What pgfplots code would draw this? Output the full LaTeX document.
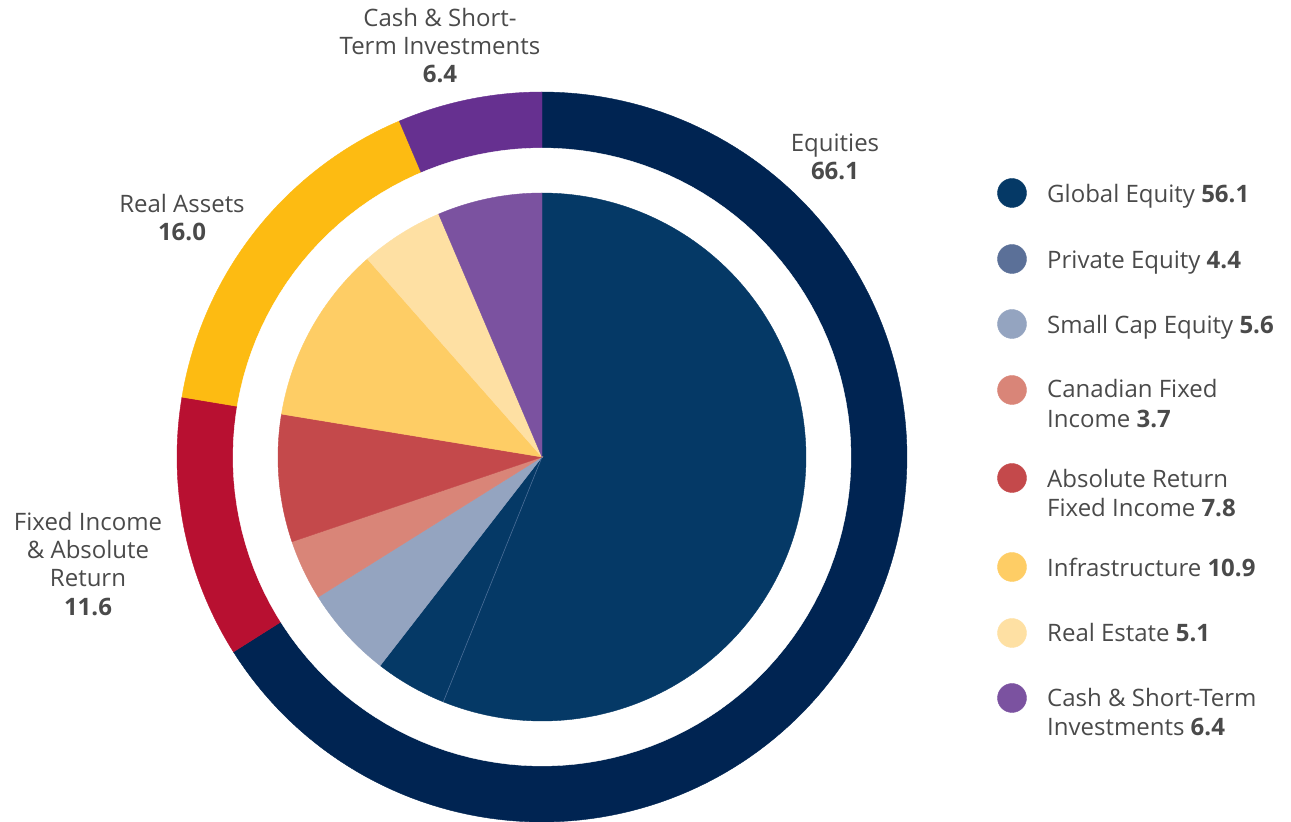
\documentclass[border=0pt]{standalone}
\usepackage{pgfplots}
\pgfplotsset{compat=1.18}
\usepackage{fontspec}
\setmainfont{Open Sans}
\definecolor{txt}{HTML}{4A4A4A}
\definecolor{eqring}{HTML}{002452}
\definecolor{firing}{HTML}{B81031}
\definecolor{raring}{HTML}{FDBB12}
\definecolor{cashring}{HTML}{663090}
\definecolor{glob}{HTML}{053966}
\definecolor{priv}{HTML}{5B7098}
\definecolor{small}{HTML}{94A4C0}
\definecolor{cfi}{HTML}{D98578}
\definecolor{abs}{HTML}{C4494B}
\definecolor{infra}{HTML}{FECD65}
\definecolor{reale}{HTML}{FEE0A3}
\definecolor{cash}{HTML}{7B52A0}
\definecolor{seam}{HTML}{4A6E98}
\tikzset{lab/.style={text=txt,font=\fontsize{24}{28}\selectfont,inner sep=0pt}}
% #1 radius, #2 cumulative start, #3 value, #4 total, #5 colour
\newcommand\slice[5]{%
  \pgfmathsetmacro\aA{90-((#2+#3)/#4)*360}%
  \pgfmathsetmacro\aB{90-((#2)/#4)*360}%
  \edef\tmp{\noexpand\addplot[fill=#5,draw=#5,line width=0.4pt,mark=none,domain=\aA:\aB,samples=150,variable=\noexpand\t] ({542+#1*cos(\noexpand\t)},{-457+#1*sin(\noexpand\t)}) -- (axis cs:542,-457) -- cycle;}%
  \tmp
}
\newcommand\legdot[3]{\addplot[only marks,mark=*,mark size=14.5,mark options={fill=#1,draw=#1}] coordinates {(#2,#3)};}
\begin{document}
\begin{tikzpicture}
\begin{axis}[width=1291pt,height=822pt,scale only axis,xmin=0,xmax=1291,ymin=-822,ymax=0,hide axis,clip=false]
\coordinate (BL) at (axis cs:0,-822);
\coordinate (TR) at (axis cs:1291,0);
% outer ring (total 100.1)
\slice{365}{0}{66.1}{100.1}{eqring}
\slice{365}{66.1}{11.6}{100.1}{firing}
\slice{365}{77.7}{16.0}{100.1}{raring}
\slice{365}{93.7}{6.4}{100.1}{cashring}
\slice{309}{0}{100}{100}{white}
% inner pie
\slice{264}{0}{56.1}{100}{glob}
\slice{264}{56.1}{4.4}{100}{glob}
\slice{264}{60.5}{5.6}{100}{small}
\slice{264}{66.1}{3.7}{100}{cfi}
\slice{264}{69.8}{7.8}{100}{abs}
\slice{264}{77.6}{10.9}{100}{infra}
\slice{264}{88.5}{5.1}{100}{reale}
\slice{264}{93.6}{6.4}{100}{cash}
\addplot[draw=seam,line width=0.6pt,mark=none,domain=0:264,samples=2] ({542+x*cos(90-3.6*56.1)},{-457+x*sin(90-3.6*56.1)});
% outer labels
\node[lab,anchor=base] at (axis cs:440,-27) {Cash \& Short-};
\node[lab,anchor=base] at (axis cs:440,-55) {Term Investments};
\node[lab,anchor=base] at (axis cs:440,-83) {\textbf{6.4}};
\node[lab,anchor=base] at (axis cs:835,-152) {Equities};
\node[lab,anchor=base] at (axis cs:835,-180) {\textbf{66.1}};
\node[lab,anchor=base] at (axis cs:182,-213) {Real Assets};
\node[lab,anchor=base] at (axis cs:182,-241) {\textbf{16.0}};
\node[lab,anchor=base] at (axis cs:88,-531) {Fixed Income};
\node[lab,anchor=base] at (axis cs:88,-559) {\& Absolute};
\node[lab,anchor=base] at (axis cs:88,-587) {Return};
\node[lab,anchor=base] at (axis cs:88,-616) {\textbf{11.6}};
% legend
\legdot{glob}{1012}{-193}
\legdot{priv}{1012}{-259}
\legdot{small}{1012}{-324}
\legdot{cfi}{1012}{-390}
\legdot{abs}{1012}{-478}
\legdot{infra}{1012}{-567}
\legdot{reale}{1012}{-633}
\legdot{cash}{1012}{-698}
\node[lab,anchor=base west] at (axis cs:1047,-203) {Global Equity \textbf{56.1}};
\node[lab,anchor=base west] at (axis cs:1047,-269) {Private Equity \textbf{4.4}};
\node[lab,anchor=base west] at (axis cs:1047,-334) {Small Cap Equity \textbf{5.6}};
\node[lab,anchor=base west] at (axis cs:1047,-398) {Canadian Fixed};
\node[lab,anchor=base west] at (axis cs:1047,-428) {Income \textbf{3.7}};
\node[lab,anchor=base west] at (axis cs:1047,-488) {Absolute Return};
\node[lab,anchor=base west] at (axis cs:1047,-517) {Fixed Income \textbf{7.8}};
\node[lab,anchor=base west] at (axis cs:1047,-577) {Infrastructure \textbf{10.9}};
\node[lab,anchor=base west] at (axis cs:1047,-642) {Real Estate \textbf{5.1}};
\node[lab,anchor=base west] at (axis cs:1047,-707) {Cash \& Short-Term};
\node[lab,anchor=base west] at (axis cs:1047,-736) {Investments \textbf{6.4}};
\end{axis}
\pgfresetboundingbox
\useasboundingbox (BL) rectangle (TR);
\end{tikzpicture}
\end{document}
